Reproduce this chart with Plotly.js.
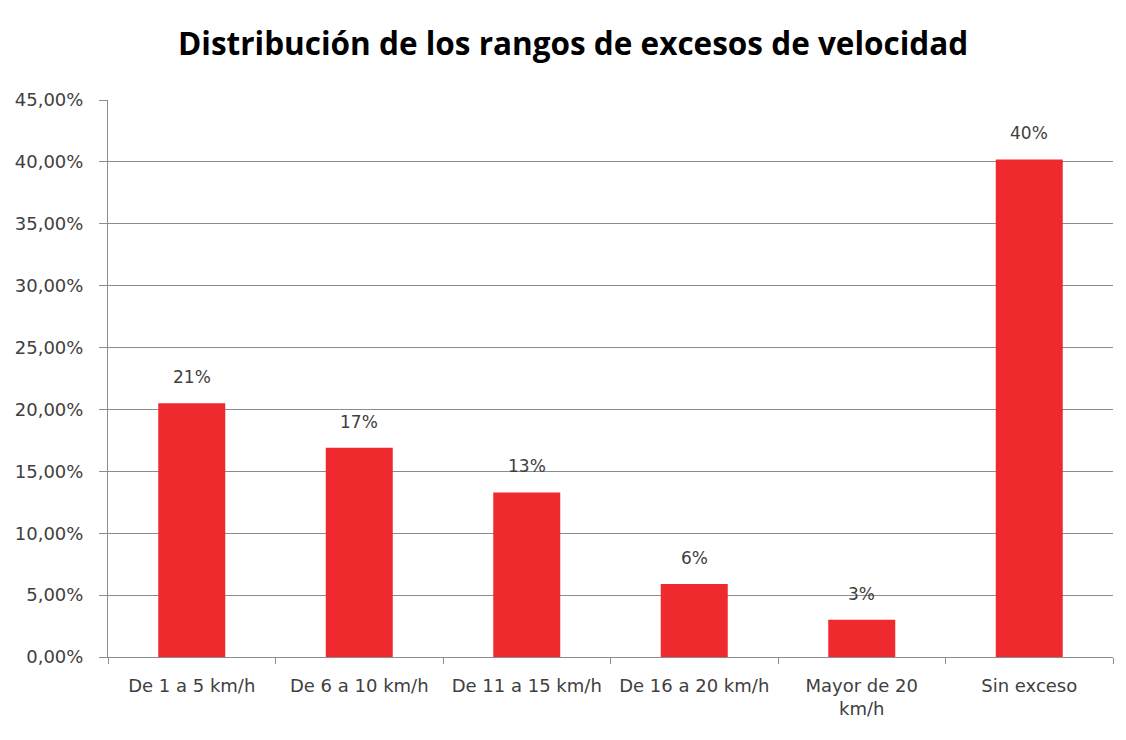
<!DOCTYPE html>
<html>
<head>
<meta charset="utf-8">
<script src="https://cdn.plot.ly/plotly-3.0.1.min.js"></script>
<style>html,body{margin:0;padding:0;background:#fff;}#chart{width:1126px;height:740px;}</style>
</head>
<body>
<div id="chart"></div>
<script>
const categories = ["De 1 a 5 km/h", "De 6 a 10 km/h", "De 11 a 15 km/h", "De 16 a 20 km/h", "Mayor de 20<br>km/h", "Sin exceso"];
const values = [0.205, 0.169, 0.133, 0.059, 0.030, 0.402];
const labels = ["21%", "17%", "13%", "6%", "3%", "40%"];
const yTicks = [0, 0.05, 0.10, 0.15, 0.20, 0.25, 0.30, 0.35, 0.40, 0.45];

const FONT = "DejaVu Sans, sans-serif";
const trace = {
  type: "bar",
  x: categories,
  y: values,
  width: 0.4,
  marker: {color: "#EE2A2F", line: {width: 0}},
  hoverinfo: "none"
};

const annotations = categories.map((c, i) => ({
  x: c, y: values[i], xref: "x", yref: "y",
  text: labels[i], showarrow: false, yshift: 26,
  font: {family: FONT, size: 17, color: "#404040"}
}));

const layout = {
  width: 1126, height: 740,
  margin: {l: 108, r: 13, t: 100, b: 83},
  paper_bgcolor: "#fff", plot_bgcolor: "#fff",
  separators: ",.",
  showlegend: false,
  title: {
    text: "<b>Distribución de los rangos de excesos de velocidad</b>",
    x: 0.509, xanchor: "center", y: 0.94, yanchor: "middle",
    font: {family: "Open Sans, sans-serif", size: 31.5, color: "#000"}
  },
  xaxis: {
    type: "category",
    tickson: "boundaries",
    ticks: "outside", ticklen: 6, tickcolor: "#8c8c8c", tickwidth: 1,
    ticklabelstandoff: 12,
    showline: true, linecolor: "#8c8c8c", linewidth: 1,
    showgrid: false,
    tickfont: {family: FONT, size: 18, color: "#404040"},
    automargin: false
  },
  yaxis: {
    range: [0, 0.45],
    tickvals: yTicks,
    tickformat: ".2%",
    ticks: "outside", ticklen: 8, tickcolor: "#8c8c8c",
    ticklabelstandoff: 12,
    showline: true, linecolor: "#8c8c8c", linewidth: 1,
    showgrid: true, gridcolor: "#8c8c8c", gridwidth: 1,
    zeroline: false,
    tickfont: {family: FONT, size: 18, color: "#404040"},
    automargin: false
  },
  annotations: annotations
};

Plotly.newPlot("chart", [trace], layout, {staticPlot: true, displayModeBar: false});
</script>
</body>
</html>
